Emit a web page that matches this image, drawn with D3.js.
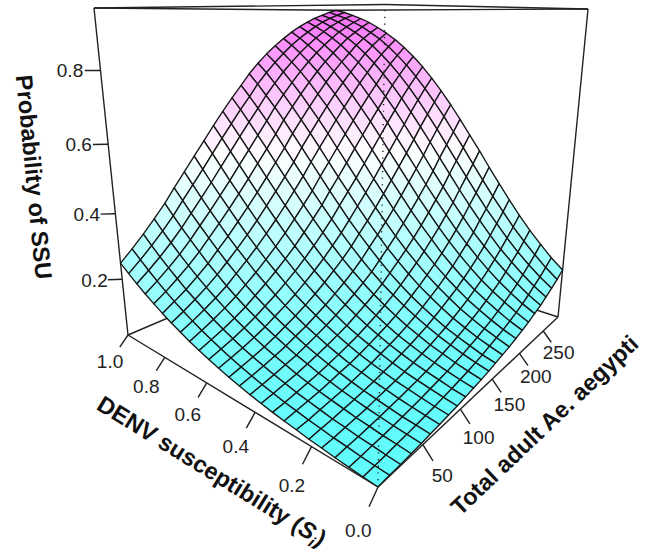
<!DOCTYPE html>
<html>
<head>
<meta charset="utf-8">
<script src="https://cdn.jsdelivr.net/npm/d3@7"></script>
<style>
    html, body { margin: 0; padding: 0; background: #fff; }
    svg { display: block; }
    text { font-family: "Liberation Sans", Arial, sans-serif; fill: #222; }
    .title { font-weight: bold; font-size: 23.5px; fill: #111; text-anchor: middle; }
    .tick-label { font-size: 19px; text-anchor: middle; }
</style>
</head>
<body>
<div id="chart"></div>
<script>
// grid of the surface
const susceptibility = [0, .042, .083, .125, .167, .208, .25, .292, .333, .375, .417, .458, .5, .542, .583, .625, .667, .708, .75, .792, .833, .875, .917, .958, 1];
const adults = [0, 12, 24, 36, 48, 59, 71, 83, 95, 107, 119, 131, 143, 154, 166, 178, 190, 202, 214, 226, 238, 249, 261, 273, 285];

// one row per adults value, one column per susceptibility value
const probability = [
    [.020,.022,.025,.028,.032,.035,.040,.044,.049,.055,.061,.068,.076,.085,.094,.105,.116,.129,.142,.157,.173,.190,.209,.229,.250],
    [.022,.024,.027,.031,.034,.039,.043,.049,.054,.061,.068,.076,.085,.095,.106,.118,.131,.145,.160,.177,.195,.215,.236,.258,.282],
    [.023,.026,.030,.033,.038,.042,.048,.054,.060,.068,.076,.085,.095,.106,.118,.132,.147,.163,.181,.199,.220,.242,.265,.290,.316],
    [.025,.029,.032,.037,.041,.047,.053,.059,.067,.075,.085,.095,.106,.119,.133,.148,.165,.183,.203,.224,.247,.271,.297,.324,.353],
    [.027,.031,.035,.040,.045,.051,.058,.066,.074,.084,.094,.106,.119,.133,.149,.166,.185,.205,.228,.251,.277,.304,.332,.361,.392],
    [.030,.034,.038,.044,.050,.056,.064,.073,.082,.093,.105,.118,.133,.149,.167,.186,.207,.230,.254,.281,.309,.338,.368,.400,.433],
    [.032,.037,.042,.048,.055,.062,.071,.080,.091,.103,.117,.131,.148,.166,.186,.208,.231,.257,.284,.312,.343,.374,.407,.441,.475],
    [.035,.040,.046,.053,.060,.069,.078,.089,.101,.115,.130,.147,.165,.185,.208,.232,.258,.286,.315,.347,.379,.413,.447,.482,.518],
    [.038,.044,.051,.058,.066,.076,.087,.099,.112,.127,.145,.163,.184,.207,.231,.258,.286,.317,.349,.383,.417,.452,.489,.525,.560],
    [.042,.048,.056,.064,.073,.084,.096,.110,.125,.142,.161,.182,.205,.230,.257,.286,.317,.350,.385,.420,.456,.493,.530,.567,.603],
    [.046,.053,.061,.070,.081,.093,.106,.122,.139,.158,.179,.202,.228,.255,.285,.317,.350,.385,.422,.459,.497,.534,.572,.608,.644],
    [.050,.058,.067,.078,.089,.103,.118,.135,.154,.175,.199,.224,.252,.283,.315,.349,.385,.422,.460,.499,.537,.575,.613,.649,.683],
    [.055,.064,.074,.086,.099,.114,.131,.150,.171,.194,.220,.248,.279,.312,.347,.383,.421,.460,.499,.539,.578,.616,.652,.687,.720],
    [.061,.070,.082,.095,.109,.126,.145,.166,.189,.215,.244,.275,.308,.343,.381,.419,.459,.499,.539,.579,.618,.655,.690,.724,.755],
    [.067,.078,.090,.105,.121,.140,.161,.184,.210,.239,.270,.303,.339,.377,.416,.456,.497,.538,.579,.618,.656,.692,.726,.758,.787],
    [.073,.086,.100,.116,.134,.155,.178,.204,.232,.263,.297,.333,.371,.411,.452,.494,.536,.577,.618,.656,.693,.728,.760,.789,.816],
    [.081,.094,.110,.128,.148,.171,.197,.225,.256,.290,.327,.365,.406,.447,.490,.533,.575,.616,.656,.693,.728,.761,.790,.817,.841],
    [.089,.104,.122,.142,.164,.189,.217,.248,.283,.319,.358,.399,.441,.485,.528,.571,.613,.653,.692,.728,.761,.791,.818,.843,.864],
    [.098,.115,.135,.157,.181,.209,.240,.274,.310,.350,.391,.434,.478,.522,.566,.609,.650,.689,.726,.760,.791,.819,.843,.865,.885],
    [.109,.127,.149,.173,.201,.231,.265,.301,.341,.382,.425,.470,.515,.560,.604,.646,.686,.724,.758,.790,.818,.843,.866,.885,.903],
    [.120,.141,.165,.192,.222,.255,.291,.331,.372,.416,.461,.507,.553,.598,.641,.682,.720,.756,.788,.817,.843,.866,.886,.903,.918],
    [.133,.156,.182,.212,.244,.280,.320,.362,.405,.451,.498,.544,.590,.634,.676,.716,.752,.785,.815,.842,.865,.885,.903,.918,.931],
    [.147,.172,.201,.233,.269,.308,.349,.394,.440,.487,.534,.581,.626,.670,.710,.748,.782,.812,.840,.864,.884,.902,.918,.931,.942],
    [.162,.190,.222,.257,.295,.337,.381,.428,.475,.524,.571,.618,.662,.704,.742,.778,.809,.837,.862,.883,.902,.917,.931,.942,.952],
    [.180,.210,.245,.282,.324,.368,.415,.463,.512,.560,.608,.653,.696,.736,.772,.805,.834,.859,.881,.900,.917,.930,.942,.952,.960]
];

// tick labels
const sTicks = [0, .2, .4, .6, .8, 1];
const nTicks = [50, 100, 150, 200, 250];
const zTicks = [.2, .4, .6, .8];

const width = 648;
const height = 554;

const sScale = d3.scaleLinear().domain([0, 1]).range([0, 1]);
const nScale = d3.scaleLinear().domain([0, 285]).range([0, 1]);
const zScale = d3.scaleLinear().domain([.02, .96]).range([0, 1]);

const color = d3.scaleLinear()
    .domain([.02, .52, .94])
    .range(["#5ffcfc", "#ffffff", "#f870f8"]);

// perspective camera fitted on the box corners, u = S, v = N, w = z
function project(u, v, w) {
    let c = 1 + .45 * u + .56 * v - .19 * w;
    let x = (1 - w) * (378 - 192.4 * u + 492.5 * v) + w * (311.85 - 193.41 * u + 493.75 * v);
    let y = (1 - w) * (487 - 1.25 * u + 7.5 * v) + w * (3.65 + 6.43 * u + 8.68 * v);
    return [x / c, y / c];
}

function depth(u, v) {
    return .45 * u + .56 * v;
}

const svg = d3.select("#chart").append("svg")
    .attr("width", width)
    .attr("height", height);

svg.append("rect")
    .attr("width", width)
    .attr("height", height)
    .attr("fill", "#fff");

const line = d3.line();

function edge(g, a, b, cls) {
    return g.append("path")
        .attr("class", cls)
        .attr("d", line([project(...a), project(...b)]))
        .attr("fill", "none")
        .attr("stroke", "#222")
        .attr("stroke-width", 1.4);
}

// back of the box, the surface covers most of it
const back = svg.append("g");
edge(back, [1, 0, 0], [1, 1, 0]);
edge(back, [0, 1, 0], [1, 1, 0]);
edge(back, [1, 1, 0], [1, 1, 1]);
edge(back, [1, 0, 0], [1, 0, 1]);
edge(back, [0, 1, 0], [0, 1, 1]);
edge(back, [1, 0, 1], [1, 1, 1]);
edge(back, [0, 1, 1], [1, 1, 1]);

// facets of the surface, far ones first
let facets = [];
for (let j = 0; j < adults.length - 1; j++) {
    for (let i = 0; i < susceptibility.length - 1; i++) {
        let corners = [[i, j], [i + 1, j], [i + 1, j + 1], [i, j + 1]];
        let pts = corners.map(d => [sScale(susceptibility[d[0]]), nScale(adults[d[1]]), zScale(probability[d[1]][d[0]])]);
        facets.push({
            pts: pts,
            z: d3.mean(corners, d => probability[d[1]][d[0]]),
            depth: d3.mean(pts, d => depth(d[0], d[1]))
        });
    }
}
facets.sort((a, b) => d3.descending(a.depth, b.depth));

svg.append("g").selectAll(".facet")
    .data(facets)
    .enter().append("path")
    .attr("class", "facet")
    .attr("d", d => line(d.pts.map(p => project(...p))) + "Z")
    .attr("fill", d => color(d.z))
    .attr("stroke", "#161616")
    .attr("stroke-width", 1.35)
    .attr("stroke-linejoin", "round");

// front of the box
const front = svg.append("g");
edge(front, [0, 0, 0], [1, 0, 0]);
edge(front, [0, 0, 0], [0, 1, 0]);
edge(front, [1, 0, 1], [0, 0, 1]);
edge(front, [0, 1, 1], [0, 0, 1]);
edge(front, [0, 0, 0], [0, 0, 1], "dotted").attr("stroke-dasharray", "1.2 5.5");

// axes: ticks run off the box sideways and down, labels sit further along the same way
const axes = svg.append("g");

sTicks.forEach(d => {
    let u = sScale(d);
    edge(axes, [u, 0, 0], [u, -.031, -.029]);
    let p = project(u, -.067, -.062);
    axes.append("text").attr("class", "tick-label")
        .attr("x", p[0]).attr("y", p[1]).attr("dy", ".35em")
        .text(d3.format(".1f")(d));
});

nTicks.forEach(d => {
    let v = nScale(d);
    edge(axes, [0, v, 0], [-.03, v, -.029]);
    let p = project(-.057, v, -.055);
    axes.append("text").attr("class", "tick-label")
        .attr("x", p[0]).attr("y", p[1]).attr("dy", ".35em")
        .text(d);
});

zTicks.forEach(d => {
    let w = zScale(d);
    edge(axes, [1, 0, w], [1.03, -.03, w]);
    let p = project(1.058, -.058, w);
    axes.append("text").attr("class", "tick-label")
        .attr("x", p[0]).attr("y", p[1]).attr("dy", ".35em")
        .text(d3.format(".1f")(d));
});

// axis titles
svg.append("text").attr("class", "title")
    .attr("transform", "translate(34,177) rotate(84.4)")
    .attr("dy", ".35em")
    .text("Probability of SSU");

const sTitle = svg.append("text").attr("class", "title")
    .attr("transform", "translate(212,471) rotate(31.7)")
    .attr("dy", ".35em");
sTitle.append("tspan").text("DENV susceptibility (");
sTitle.append("tspan").attr("font-style", "italic").text("S");
sTitle.append("tspan").attr("font-style", "italic").attr("font-size", "15px").attr("dy", "5").text("i");
sTitle.append("tspan").attr("dy", "-5").text(")");

svg.append("text").attr("class", "title")
    .attr("transform", "translate(544.5,425) rotate(-43.6)")
    .attr("dy", ".35em")
    .text("Total adult Ae. aegypti");
</script>
</body>
</html>
